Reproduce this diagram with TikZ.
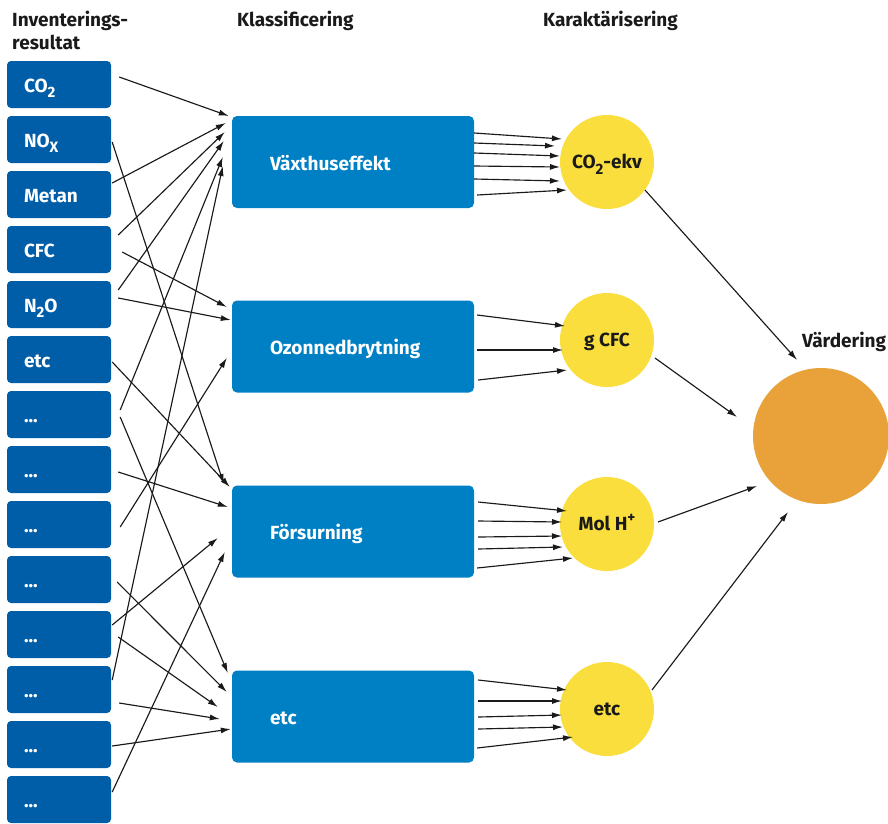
\documentclass[tikz,border=0pt]{standalone}
\usepackage{fontspec}
\setmainfont{Fira Sans}
\usetikzlibrary{arrows.meta}
\definecolor{lblue}{RGB}{0,93,168}
\definecolor{mblue}{RGB}{0,128,196}
\definecolor{cyellow}{RGB}{249,222,62}
\definecolor{corange}{RGB}{233,161,58}
\definecolor{ink}{RGB}{26,26,26}
\newcommand\mysubs[1]{\raisebox{-0.3em}{\fontsize{15}{15}\selectfont #1}}
\newcommand\mysups[1]{\raisebox{0.4em}{\fontsize{15}{15}\selectfont #1}}
\begin{document}
\begin{tikzpicture}[x=1pt,y=-1pt,
  every node/.style={font=\fontsize{19}{22}\selectfont\bfseries},
  lbox/.style={fill=lblue, rounded corners=4pt, minimum width=104pt, minimum height=47pt,
    inner xsep=17pt, inner ysep=0pt, text width=70pt, align=left, text=white, text height=15pt, text depth=0pt},
  mbox/.style={fill=mblue, rounded corners=5pt, minimum width=242pt, minimum height=92pt,
    inner xsep=38pt, inner ysep=0pt, text width=166pt, align=left, text=white, text height=16pt, text depth=0pt},
  ccirc/.style={circle, fill=cyellow, minimum size=94pt, inner sep=0pt, text=ink, text height=13pt, text depth=0pt},
  head/.style={anchor=base west, text=ink, inner sep=0pt},
  arr/.style={-{Latex[length=10pt,width=6pt]}, line width=1.15pt, draw=ink}
]
\useasboundingbox (0,0) rectangle (888,823);

% headings
\node[head] (h1) at (12,26) {Inventerings-};
\node[head] (h2) at (12,49) {resultat};
\node[head] (h3) at (237,26) {Klassificering};
\node[head] (h4) at (543,26) {Karaktärisering};
\node[head] (h5) at (802,347) {Värdering};

% left boxes
\node[lbox] (l1) at (59,84.5) {CO\mysubs{2}};
\node[lbox] (l2) at (59,139.5) {NO\mysubs{X}};
\node[lbox] (l3) at (59,194.5) {Metan};
\node[lbox] (l4) at (59,249.5) {CFC};
\node[lbox] (l5) at (59,304.5) {N\mysubs{2}O};
\node[lbox] (l6) at (59,359.5) {etc};
\node[lbox] (l7) at (59,414.5) {...};
\node[lbox] (l8) at (59,469.5) {...};
\node[lbox] (l9) at (59,524.5) {...};
\node[lbox] (l10) at (59,579.5) {...};
\node[lbox] (l11) at (59,634.5) {...};
\node[lbox] (l12) at (59,689.5) {...};
\node[lbox] (l13) at (59,744.5) {...};
\node[lbox] (l14) at (59,799.5) {...};

% middle boxes
\node[mbox] (m1) at (353,162) {Växthuseffekt};
\node[mbox] (m2) at (353,346.5) {Ozonnedbrytning};
\node[mbox] (m3) at (353,531.5) {Försurning};
\node[mbox] (m4) at (353,716.5) {etc};

% circles
\node[ccirc] (c1) at (607,162) {CO\mysubs{2}-ekv};
\node[ccirc] (c2) at (607,340) {g CFC};
\node[ccirc] (c3) at (607,524) {Mol H\mysups{+}};
\node[ccirc] (c4) at (607,709) {etc};
\node[circle, fill=corange, minimum size=136pt, inner sep=0pt] (v) at (821,436) {};

% left -> middle
\draw[arr] ([shift={(8,-7.5)}]l1.east) -- ([shift={(-3,-46)}]m1.west);
\draw[arr] ([shift={(1,2.5)}]l2.east) -- ([shift={(-8,-47.5)}]m3.west);
\draw[arr] ([shift={(1,-11.5)}]l3.east) -- ([shift={(-6,-39)}]m1.west);
\draw[arr] ([shift={(7,-14.5)}]l4.east) -- ([shift={(-7,-30)}]m1.west);
\draw[arr] ([shift={(11,2.5)}]l4.east) -- ([shift={(-5,-39.5)}]m2.west);
\draw[arr] ([shift={(7,-14.5)}]l5.east) -- ([shift={(-8,-21)}]m1.west);
\draw[arr] ([shift={(7,-6.5)}]l5.east) -- ([shift={(-1,-26.5)}]m2.west);
\draw[arr] ([shift={(1,2.5)}]l6.east) -- ([shift={(-2,-44.5)}]m3.west);
\draw[arr] ([shift={(9,-4.5)}]l7.east) -- ([shift={(-9,-5)}]m1.west);
\draw[arr] ([shift={(9,2.5)}]l7.east) -- ([shift={(-4,-43.5)}]m4.west);
\draw[arr] ([shift={(7,2.5)}]l8.east) -- ([shift={(-4,-24.5)}]m3.west);
\draw[arr] ([shift={(9,2.5)}]l9.east) -- ([shift={(-5,11.5)}]m2.west);
\draw[arr] ([shift={(6,2.5)}]l10.east) -- ([shift={(-5,-24.5)}]m4.west);
\draw[arr] ([shift={(1,-9.5)}]l11.east) -- ([shift={(-14,6.5)}]m3.west);
\draw[arr] ([shift={(7,2.5)}]l11.east) -- ([shift={(-14,-9.5)}]m4.west);
\draw[arr] ([shift={(1,-9.5)}]l12.east) -- ([shift={(-9,4)}]m1.west);
\draw[arr] ([shift={(8,13.5)}]l12.east) -- ([shift={(-12,2.5)}]m4.west);
\draw[arr] ([shift={(1,1.5)}]l13.east) -- ([shift={(-1,12.5)}]m4.west);
\draw[arr] ([shift={(1,-7.5)}]l14.east) -- ([shift={(-7,20.5)}]m3.west);

% middle -> circles
\draw[arr] ([shift={(0,-29)}]m1.east) -- ([shift={(-45,-23)}]c1.center);
\draw[arr] ([shift={(0,-19)}]m1.east) -- ([shift={(-52,-16)}]c1.center);
\draw[arr] ([shift={(0,-9)}]m1.east) -- ([shift={(-47,-6)}]c1.center);
\draw[arr] ([shift={(0,4)}]m1.east) -- ([shift={(-47,5)}]c1.center);
\draw[arr] ([shift={(0,17)}]m1.east) -- ([shift={(-47,19)}]c1.center);
\draw[arr] ([shift={(3,33)}]m1.east) -- ([shift={(-40,28)}]c1.center);

\draw[arr] ([shift={(3,-31.5)}]m2.east) -- ([shift={(-42,-14)}]c2.center);
\draw[arr] ([shift={(3,3.5)}]m2.east) -- ([shift={(-44,10)}]c2.center);
\draw[arr] ([shift={(4,33.5)}]m2.east) -- ([shift={(-40,30)}]c2.center);

\draw[arr] ([shift={(4,-29.5)}]m3.east) -- ([shift={(-40,-13)}]c3.center);
\draw[arr] ([shift={(4,-10.5)}]m3.east) -- ([shift={(-45,-2)}]c3.center);
\draw[arr] ([shift={(4,5.5)}]m3.east) -- ([shift={(-45,12)}]c3.center);
\draw[arr] ([shift={(4,17.5)}]m3.east) -- ([shift={(-44,23)}]c3.center);
\draw[arr] ([shift={(3,36.5)}]m3.east) -- ([shift={(-34,34)}]c3.center);

\draw[arr] ([shift={(4,-36.5)}]m4.east) -- ([shift={(-40,-19)}]c4.center);
\draw[arr] ([shift={(4,-15.5)}]m4.east) -- ([shift={(-45,-8)}]c4.center);
\draw[arr] ([shift={(4,0.5)}]m4.east) -- ([shift={(-45,6)}]c4.center);
\draw[arr] ([shift={(4,12.5)}]m4.east) -- ([shift={(-44,18)}]c4.center);
\draw[arr] ([shift={(3,31.5)}]m4.east) -- ([shift={(-34,28)}]c4.center);

% circles -> Värdering
\draw[arr] ([shift={(38,28)}]c1.center) -- ([shift={(-24,-76)}]v.center);
\draw[arr] ([shift={(48,18)}]c2.center) -- ([shift={(-84,-19)}]v.center);
\draw[arr] ([shift={(51,-2)}]c3.center) -- ([shift={(-64,50)}]v.center);
\draw[arr] ([shift={(45,-19)}]c4.center) -- ([shift={(-33,76)}]v.center);
\end{tikzpicture}
\end{document}
